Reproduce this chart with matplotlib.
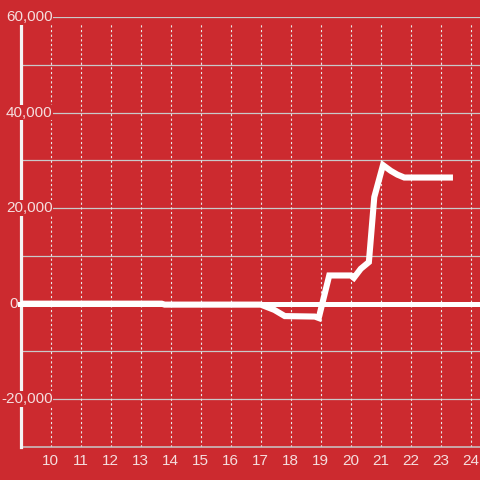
import matplotlib
matplotlib.use("Agg")
import matplotlib.pyplot as plt
from matplotlib.transforms import blended_transform_factory, ScaledTranslation

# ---- data ----
hours = [9.0, 13.7, 13.8, 17.0, 17.45, 17.8, 18.8, 18.93, 19.28, 20.0, 20.1,
         20.33, 20.6, 20.78, 21.07, 21.33, 21.55, 21.78, 23.4]
values = [0, 0, -200, -200, -1300, -2600, -2700, -3000, 5900, 5900, 5400,
          7300, 8700, 22300, 29000, 27800, 27000, 26400, 26400]
x_ticks = list(range(10, 25))
x_tick_labels = [str(t) for t in x_ticks]
y_major = [-20000, 0, 20000, 40000, 60000]
y_major_labels = ["-20,000", "0", "20,000", "40,000", "60,000"]
y_minor = [-30000, -10000, 10000, 30000, 50000]

BG = "#cc2a2f"
TXT = "#f5dede"
GRID = "#c9c9c9"

plt.rcParams["font.family"] = ["Liberation Sans", "DejaVu Sans"]

fig = plt.figure(figsize=(4.8, 4.8), dpi=100, facecolor=BG)
W = H = 480.0
ax = fig.add_axes([20.5 / W, 33 / H, (480 - 20.5) / W, 430 / H])
ax.set_facecolor(BG)
ax.set_xlim(9, 24.3)
ax.set_ylim(-30000, 60000)

# horizontal grid lines
for v in y_major + y_minor:
    if v in (0, -30000):
        continue
    ax.axhline(v, color=GRID, lw=0.9, zorder=1)

# vertical dotted grid lines
ax.vlines(x_ticks, -30000, 58700, colors="#e8e8e8", lw=0.8,
          linestyles=(0, (2, 2.2)), zorder=1)

# zero line
ax.axhline(0, xmin=-0.008, xmax=1, color="white", lw=3.6, zorder=3, clip_on=False)

# data line
ax.plot(hours, values, color="white", lw=4.4, zorder=4,
        solid_joinstyle="miter", solid_capstyle="butt")

# spines
for s in ("top", "right"):
    ax.spines[s].set_visible(False)
ax.spines["left"].set_color("#f4f4f4")
ax.spines["left"].set_linewidth(2.3)
ax.spines["left"].set_bounds(-30000, 58500)
ax.spines["left"].set_zorder(2.6)
ax.spines["bottom"].set_color(GRID)
ax.spines["bottom"].set_linewidth(1.1)

# ticks
ax.set_xticks(x_ticks)
ax.set_xticklabels(x_tick_labels)
ax.tick_params(axis="x", length=0, pad=5, labelsize=11, labelcolor=TXT)
ax.set_yticks([])

# y labels drawn inside with a background box
for v, lab in zip(y_major, y_major_labels):
    right_px = 17.5 if v == 0 else 52.5
    trans = blended_transform_factory(fig.transFigure, ax.transData)
    ax.text(right_px / W, v, lab, transform=trans, ha="right", va="center",
            fontsize=11, color=TXT, zorder=6, clip_on=False,
            bbox=dict(boxstyle="square,pad=0.06", fc=BG, ec="none"))

fig.savefig("out.png", dpi=100, facecolor=BG)
